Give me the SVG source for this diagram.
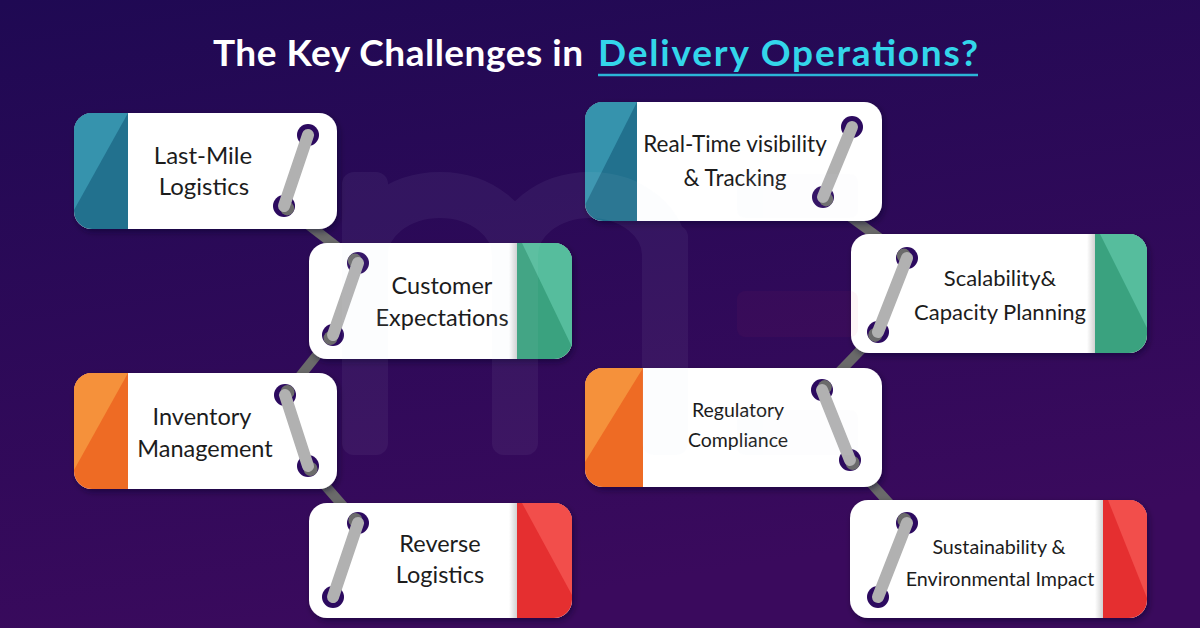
<svg xmlns="http://www.w3.org/2000/svg" width="1200" height="628" viewBox="0 0 1200 628">
<defs>
<linearGradient id="bg" x1="0" y1="0" x2="0.3" y2="1">
<stop offset="0" stop-color="#1f0953"/>
<stop offset="1" stop-color="#3a0a5d"/>
</linearGradient>
<linearGradient id="shL" x1="0" y1="0" x2="1" y2="0">
<stop offset="0" stop-color="#000" stop-opacity="0"/>
<stop offset="1" stop-color="#000" stop-opacity="0.18"/>
</linearGradient>
<filter id="ds" x="-10%" y="-10%" width="125%" height="130%">
<feDropShadow dx="2" dy="3" stdDeviation="3" flood-color="#0a0020" flood-opacity="0.45"/>
</filter>
<style>
.card{fill:#ffffff}
.lbl{font-family:Lato,"Liberation Sans",sans-serif;fill:#1c1c1c;text-anchor:middle}
.conn{stroke:#6a6a6a;stroke-width:10;stroke-linecap:butt;fill:none}
.hole{fill:#2c0a5f}
.cres{fill:#6b6b6b}
.bar{stroke:#b1b1b1;stroke-width:12;stroke-linecap:round}
.tealL{fill:#3693ad}.tealD{fill:#22718e}
.grnL{fill:#56bd9d}.grnD{fill:#3aa27f}
.orL{fill:#f5913b}.orD{fill:#ee6b24}
.redL{fill:#f24e4b}.redD{fill:#e52f30}
</style>
</defs>
<rect x="0" y="0" width="1200" height="628" fill="url(#bg)"/>

<g id="title" font-family="Lato,'Liberation Sans',sans-serif" font-weight="bold" font-size="37">
<text x="213" y="66" text-anchor="start" fill="#ffffff" textLength="370" lengthAdjust="spacing">The Key Challenges in</text>
<text x="598" y="66" text-anchor="start" fill="#33d6ea" textLength="380" lengthAdjust="spacing">Delivery Operations?</text>
<line x1="598" y1="75" x2="978" y2="75" stroke="#2bb5d8" stroke-width="2.5"/>
</g>

<g id="connectors">
<line class="conn" x1="284" y1="206" x2="358" y2="263"/>
<line class="conn" x1="333" y1="335" x2="285" y2="395"/>
<line class="conn" x1="308" y1="466" x2="358" y2="523"/>
<line class="conn" x1="823" y1="197" x2="907" y2="258"/>
<line class="conn" x1="878" y1="332" x2="822" y2="390"/>
<line class="conn" x1="850" y1="460" x2="907" y2="523"/>
</g>

<g id="n1">
<rect class="card" x="74" y="113" width="263" height="116" rx="18" filter="url(#ds)"/>
<path class="tealD" d="M92,113 H128 V229 H92 A18,18 0 0 1 74,211 V131 A18,18 0 0 1 92,113 Z"/>
<path class="tealL" d="M128,113 H92 A18,18 0 0 0 74,131 V210 Z"/>
<text class="lbl" x="203" y="164" font-size="24">Last-Mile</text>
<text class="lbl" x="204" y="195" font-size="24">Logistics</text>
<circle class="hole" cx="308" cy="135" r="11"/>
<circle class="hole" cx="284" cy="206" r="11"/>
<circle class="cres" cx="287.2" cy="208.4" r="7"/>
<line class="bar" x1="308" y1="135" x2="284" y2="206"/>
</g>

<g id="n2">
<rect class="card" x="309" y="243" width="263" height="116" rx="18" filter="url(#ds)"/>
<rect x="509" y="243" width="8" height="116" fill="url(#shL)"/>
<path class="grnD" d="M517,243 H554 A18,18 0 0 1 572,261 V341 A18,18 0 0 1 554,359 H517 Z"/>
<path class="grnL" d="M522,243 H554 A18,18 0 0 1 572,261 V347 Z"/>
<text class="lbl" x="442" y="294" font-size="23.5">Customer</text>
<text class="lbl" x="442" y="326" font-size="23.5">Expectations</text>
<circle class="hole" cx="358" cy="263" r="11"/>
<circle class="cres" cx="354.8" cy="260.6" r="7"/>
<circle class="hole" cx="333" cy="335" r="11"/>
<circle class="cres" cx="330.5" cy="338.1" r="7"/>
<line class="bar" x1="358" y1="263" x2="333" y2="335"/>
</g>

<g id="n3">
<rect class="card" x="585" y="102" width="297" height="119" rx="18" filter="url(#ds)"/>
<path class="tealD" d="M603,102 H637 V221 H603 A18,18 0 0 1 585,203 V120 A18,18 0 0 1 603,102 Z"/>
<path class="tealL" d="M637,102 H603 A18,18 0 0 0 585,120 V205 Z"/>
<text class="lbl" x="735" y="152" font-size="22.5">Real-Time visibility</text>
<text class="lbl" x="735" y="186" font-size="22.5">&amp; Tracking</text>
<circle class="hole" cx="852" cy="127" r="11"/>
<circle class="hole" cx="823" cy="197" r="11"/>
<circle class="cres" cx="826.2" cy="199.4" r="7"/>
<line class="bar" x1="852" y1="127" x2="823" y2="197"/>
</g>

<g id="n4">
<rect class="card" x="851" y="234" width="296" height="119" rx="18" filter="url(#ds)"/>
<rect x="1087" y="234" width="8" height="119" fill="url(#shL)"/>
<path class="grnD" d="M1095,234 H1129 A18,18 0 0 1 1147,252 V335 A18,18 0 0 1 1129,353 H1095 Z"/>
<path class="grnL" d="M1100,234 H1129 A18,18 0 0 1 1147,252 V328 Z"/>
<text class="lbl" x="1000" y="286" font-size="22">Scalability&amp;</text>
<text class="lbl" x="1000" y="320" font-size="22">Capacity Planning</text>
<circle class="hole" cx="907" cy="258" r="11"/>
<circle class="cres" cx="903.8" cy="255.6" r="7"/>
<circle class="hole" cx="878" cy="332" r="11"/>
<circle class="cres" cx="875.2" cy="334.9" r="7"/>
<line class="bar" x1="907" y1="258" x2="878" y2="332"/>
</g>

<g id="n5">
<rect class="card" x="74" y="373" width="263" height="116" rx="18" filter="url(#ds)"/>
<path class="orD" d="M92,373 H128 V489 H92 A18,18 0 0 1 74,471 V391 A18,18 0 0 1 92,373 Z"/>
<path class="orL" d="M128,373 H92 A18,18 0 0 0 74,391 V470 Z"/>
<text class="lbl" x="202" y="425" font-size="23.5">Inventory</text>
<text class="lbl" x="205" y="457" font-size="23.5">Management</text>
<circle class="hole" cx="285" cy="395" r="11"/>
<circle class="cres" cx="287.5" cy="391.9" r="7"/>
<circle class="hole" cx="308" cy="466" r="11"/>
<circle class="cres" cx="310.6" cy="469" r="7"/>
<line class="bar" x1="285" y1="395" x2="308" y2="466"/>
</g>

<g id="n6">
<rect class="card" x="585" y="368" width="297" height="119" rx="18" filter="url(#ds)"/>
<path class="orD" d="M603,368 H643 V487 H603 A18,18 0 0 1 585,469 V386 A18,18 0 0 1 603,368 Z"/>
<path class="orL" d="M643,368 H603 A18,18 0 0 0 585,386 V462 Z"/>
<text class="lbl" x="738" y="417" font-size="19.5">Regulatory</text>
<text class="lbl" x="738" y="447" font-size="19.5">Compliance</text>
<circle class="hole" cx="822" cy="390" r="11"/>
<circle class="cres" cx="824.8" cy="387.1" r="7"/>
<circle class="hole" cx="850" cy="460" r="11"/>
<circle class="cres" cx="852.7" cy="463" r="7"/>
<line class="bar" x1="822" y1="390" x2="850" y2="460"/>
</g>

<g id="n7">
<rect class="card" x="309" y="503" width="263" height="115" rx="18" filter="url(#ds)"/>
<rect x="509" y="503" width="8" height="115" fill="url(#shL)"/>
<path class="redD" d="M517,503 H554 A18,18 0 0 1 572,521 V600 A18,18 0 0 1 554,618 H517 Z"/>
<path class="redL" d="M522,503 H554 A18,18 0 0 1 572,521 V595 Z"/>
<text class="lbl" x="440" y="552" font-size="23.5">Reverse</text>
<text class="lbl" x="440" y="583" font-size="23.5">Logistics</text>
<circle class="hole" cx="358" cy="523" r="11"/>
<circle class="cres" cx="355.4" cy="520" r="7"/>
<circle class="hole" cx="333" cy="597" r="11"/>
<line class="bar" x1="358" y1="523" x2="333" y2="597"/>
</g>

<g id="n8">
<rect class="card" x="850" y="500" width="297" height="118" rx="18" filter="url(#ds)"/>
<rect x="1095" y="500" width="8" height="118" fill="url(#shL)"/>
<path class="redD" d="M1103,500 H1129 A18,18 0 0 1 1147,518 V600 A18,18 0 0 1 1129,618 H1103 Z"/>
<path class="redL" d="M1108,500 H1129 A18,18 0 0 1 1147,518 V598 Z"/>
<text class="lbl" x="999" y="554" font-size="19.7">Sustainability &amp;</text>
<text class="lbl" x="1000" y="586" font-size="19.7">Environmental Impact</text>
<circle class="hole" cx="907" cy="523" r="11"/>
<circle class="cres" cx="904.3" cy="520" r="7"/>
<circle class="hole" cx="878" cy="597" r="11"/>
<line class="bar" x1="907" y1="523" x2="878" y2="597"/>
</g>

<g id="watermark" opacity="0.055" fill="#d4e2f2">
<rect x="342" y="172" width="46" height="283" rx="12"/>
<rect x="492" y="225" width="46" height="230" rx="12"/>
<rect x="642" y="225" width="46" height="230" rx="12"/>
<path d="M365,270 V255 A75,60 0 0 1 515,255 V270" fill="none" stroke="#d4e2f2" stroke-width="46"/>
<path d="M515,270 V255 A75,60 0 0 1 665,255 V270" fill="none" stroke="#d4e2f2" stroke-width="46"/>
<rect x="737" y="174" width="121" height="44" rx="8"/>
<rect x="737" y="410" width="121" height="45" rx="8"/>
</g>
<rect x="737" y="291" width="121" height="46" rx="8" fill="#e0406a" opacity="0.05"/>
</svg>
